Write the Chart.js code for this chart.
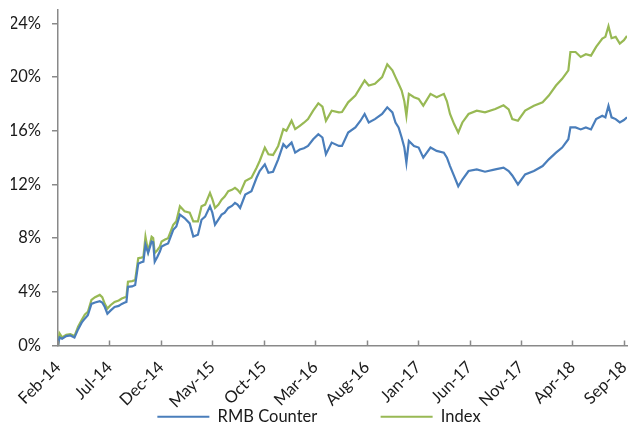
<!DOCTYPE html>
<html>
<head>
<meta charset="utf-8">
<script src="https://cdn.jsdelivr.net/npm/chart.js@4.4.1/dist/chart.umd.min.js"></script>
<style>
  html, body { margin: 0; padding: 0; background: #fff; }
  #wrap { width: 635px; height: 425px; }
</style>
</head>
<body>
<div id="wrap"><canvas id="perfChart"></canvas></div>
<script>
// posisi waktu dalam bulan sejak Feb-14
const months = [
  0.0, 0.15, 0.4, 0.8, 1.2, 1.6, 1.95, 2.3, 2.6, 2.9, 3.25, 3.6, 4.06, 4.3, 4.55, 4.8,
  5.1, 5.5, 5.9, 6.2, 6.5, 6.65, 6.8, 7.2, 7.5, 7.8, 8.1, 8.3, 8.5, 8.76, 9.1, 9.25,
  9.4, 9.65, 9.9, 10.07, 10.4, 10.7, 11.0, 11.2, 11.5, 11.85, 12.3, 12.8, 13.15, 13.6,
  13.95, 14.3, 14.77, 15.0, 15.26, 15.6, 15.9, 16.2, 16.55, 16.9, 17.2, 17.45, 17.7,
  18.2, 18.8, 19.3, 19.6, 20.1, 20.45, 20.9, 21.4, 21.9, 22.2, 22.7, 23.05, 23.5, 23.9,
  24.3, 24.8, 25.3, 25.7, 26.04, 26.6, 27.3, 27.6, 28.2, 28.9, 29.4, 29.8, 30.2, 30.8,
  31.5, 32.0, 32.5, 32.8, 33.1, 33.4, 33.66, 33.86, 34.1, 34.6, 35.05, 35.5, 36.2, 36.8,
  37.5, 37.8, 38.1, 38.5, 38.9, 39.3, 39.9, 40.7, 41.5, 42.5, 43.3, 43.8, 44.15, 44.7,
  45.4, 46.25, 47.1, 47.7, 48.4, 49.0, 49.6, 49.8, 50.3, 50.8, 51.3, 51.8, 52.3, 52.9,
  53.2, 53.5, 53.8, 54.2, 54.6, 55.0, 55.3
];

const rmbCounter = [
  0.0, 0.6, 0.5, 0.7, 0.75, 0.6, 1.2, 1.7, 2.0, 2.25, 3.1, 3.2, 3.3, 3.2, 2.87, 2.37,
  2.6, 2.87, 2.95, 3.1, 3.2, 3.25, 4.37, 4.4, 4.5, 6.1, 6.2, 6.25, 7.5, 6.9, 7.75, 7.7,
  6.25, 6.6, 7.0, 7.37, 7.5, 7.6, 8.2, 8.62, 8.87, 9.75, 9.5, 9.1, 8.12, 8.25,
  9.37, 9.6, 10.37, 9.9, 9.0, 9.4, 9.75, 9.9, 10.25, 10.4, 10.62, 10.5, 10.25,
  11.25, 11.5, 12.5, 13.0, 13.5, 12.87, 12.95, 13.87, 15.0, 14.75, 15.12, 14.37, 14.6, 14.7,
  14.87, 15.37, 15.75, 15.5, 14.25, 15.12, 14.87, 14.87, 15.87, 16.25, 16.75, 17.25, 16.62, 16.87,
  17.25, 17.75, 17.37, 16.62, 16.25, 15.5, 14.75, 13.62, 15.25, 14.87, 14.75, 14.0, 14.75, 14.5,
  14.37, 14.0, 13.37, 12.62, 11.87, 12.37, 13.0, 13.12, 12.95, 13.12, 13.25, 13.0, 12.67, 12.0,
  12.75, 13.0, 13.37, 13.87, 14.37, 14.75, 15.37, 16.25, 16.25, 16.1, 16.25, 16.1, 16.87, 17.12,
  17.0, 17.87, 17.0, 16.87, 16.62, 16.8, 17.0
];

const indexLine = [
  0.0, 0.9, 0.6, 0.8, 0.85, 0.7, 1.4, 1.9, 2.3, 2.5, 3.4, 3.6, 3.77, 3.6, 3.1, 2.75,
  3.0, 3.25, 3.35, 3.5, 3.6, 3.62, 4.75, 4.8, 4.87, 6.5, 6.55, 6.6, 8.1, 7.0, 8.1, 8.0,
  6.9, 7.1, 7.37, 7.75, 7.9, 8.0, 8.6, 9.0, 9.25, 10.37, 10.0, 9.9, 9.25, 9.25,
  10.37, 10.5, 11.37, 10.9, 10.25, 10.5, 10.87, 11.1, 11.5, 11.6, 11.75, 11.6, 11.37,
  12.25, 12.5, 13.25, 13.75, 14.75, 14.25, 14.2, 14.87, 16.12, 16.0, 16.75, 16.12, 16.37, 16.6,
  16.87, 17.5, 18.05, 17.8, 16.75, 17.5, 17.37, 17.4, 18.12, 18.62, 19.25, 19.75, 19.37, 19.5,
  20.0, 20.95, 20.5, 20.0, 19.5, 19.0, 18.2, 17.12, 18.75, 18.5, 18.37, 17.87, 18.75, 18.5,
  18.75, 18.2, 17.25, 16.5, 15.87, 16.62, 17.25, 17.5, 17.37, 17.62, 17.9, 17.6, 16.87, 16.75,
  17.5, 17.87, 18.12, 18.62, 19.37, 19.87, 20.5, 21.87, 21.87, 21.5, 21.7, 21.6, 22.25, 22.87,
  23.0, 23.8, 22.9, 23.0, 22.5, 22.75, 23.07
];

const tickLabels = ['Feb-14', 'Jul-14', 'Dec-14', 'May-15', 'Oct-15', 'Mar-16',
  'Aug-16', 'Jan-17', 'Jun-17', 'Nov-17', 'Apr-18', 'Sep-18'];
const yTicks = [0, 4, 8, 12, 16, 20, 24];

const axisColor = '#898989';
const textColor = '#1a1a1a';
const fontFamily = 'Lato, "Open Sans", sans-serif';

// garis tick sumbu X mengarah ke dalam area grafik
const innerTicks = {
  id: 'innerTicks',
  afterDraw(chart) {
    const ctx = chart.ctx;
    const xScale = chart.scales.x;
    const bottom = chart.chartArea.bottom;
    ctx.save();
    ctx.strokeStyle = axisColor;
    ctx.lineWidth = 1.5;
    xScale.ticks.forEach(t => {
      const px = Math.round(xScale.getPixelForValue(t.value)) + 0.5;
      ctx.beginPath();
      ctx.moveTo(px, bottom);
      ctx.lineTo(px, bottom - 5);
      ctx.stroke();
    });
    ctx.restore();
  }
};

function toPoints(values) {
  return months.map((m, i) => ({ x: m, y: values[i] }));
}

const ctx = document.getElementById('perfChart').getContext('2d');
new Chart(ctx, {
  type: 'line',
  data: {
    datasets: [
      {
        label: 'RMB Counter',
        data: toPoints(rmbCounter),
        borderColor: '#4A7EBB',
        backgroundColor: '#4A7EBB',
        borderWidth: 2.2,
        pointRadius: 0,
        tension: 0
      },
      {
        label: 'Index',
        data: toPoints(indexLine),
        borderColor: '#98B954',
        backgroundColor: '#98B954',
        borderWidth: 2.2,
        pointRadius: 0,
        tension: 0
      }
    ]
  },
  options: {
    responsive: true,
    maintainAspectRatio: false,
    animation: false,
    layout: { padding: { left: 11, right: 8, top: 10, bottom: -10 } },
    plugins: {
      tooltip: { enabled: false },
      legend: {
        position: 'bottom',
        labels: {
          boxWidth: 52,
          boxHeight: 2,
          padding: 0,
          color: textColor,
          font: { family: fontFamily, size: 16.5 },
          generateLabels: chart => chart.data.datasets.map((ds, i) => ({
            text: ds.label + (i === 0 ? ' '.repeat(15) : ''),
            fillStyle: ds.borderColor,
            strokeStyle: ds.borderColor,
            lineWidth: 0,
            hidden: false,
            datasetIndex: i,
            fontColor: textColor
          }))
        }
      }
    },
    scales: {
      x: {
        type: 'linear',
        min: 0,
        max: 55.3,
        afterBuildTicks: scale => {
          scale.ticks = tickLabels.map((_, i) => ({ value: i * 5 }));
        },
        afterFit: scale => {
          scale.height = 63;
          scale.paddingLeft = 0;
          scale.paddingRight = 0;
        },
        ticks: {
          autoSkip: false,
          maxRotation: 45,
          minRotation: 45,
          padding: 4,
          color: textColor,
          font: { family: fontFamily, size: 16.5 },
          callback: v => tickLabels[Math.round(v / 5)]
        },
        grid: { display: false },
        border: { display: true, color: axisColor, width: 1.5 }
      },
      y: {
        min: 0,
        max: 25,
        afterBuildTicks: scale => {
          scale.ticks = yTicks.map(v => ({ value: v }));
        },
        afterFit: scale => {
          scale.width = 47;
          scale.paddingTop = 0;
        },
        ticks: {
          padding: 11,
          color: textColor,
          font: { family: fontFamily, size: 16.5 },
          callback: v => v + '%'
        },
        grid: {
          drawOnChartArea: false,
          drawTicks: true,
          tickLength: 6,
          color: axisColor,
          lineWidth: 1.5
        },
        border: { display: true, color: axisColor, width: 1.5 }
      }
    }
  },
  plugins: [innerTicks]
});
</script>
</body>
</html>
